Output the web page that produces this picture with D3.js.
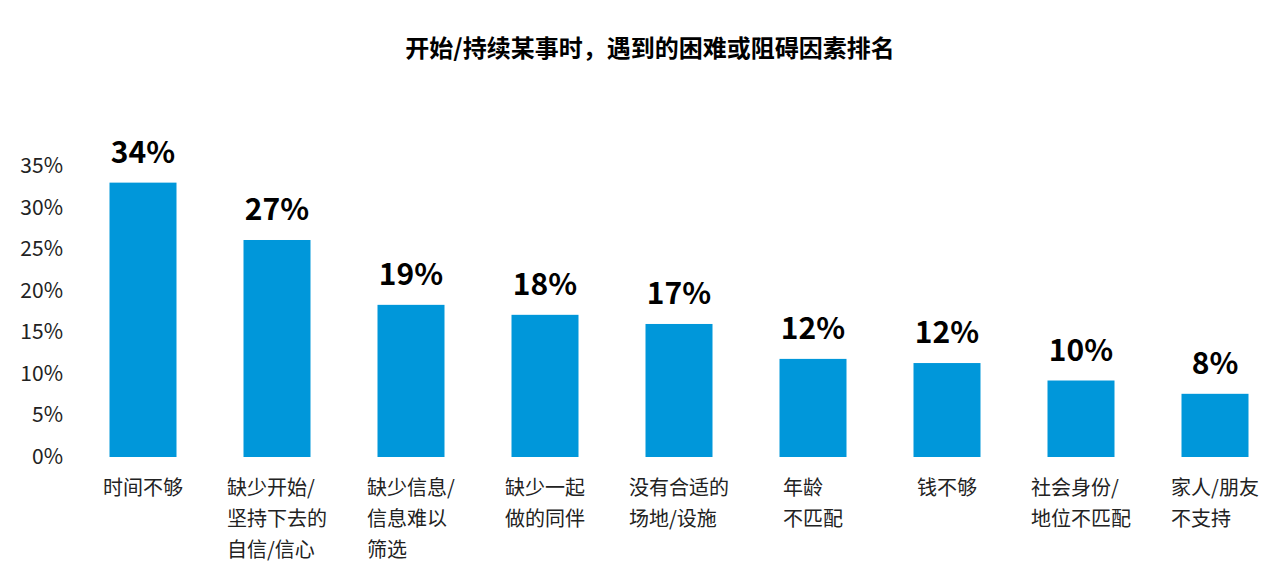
<!DOCTYPE html><html><head><meta charset="utf-8"><script src="https://cdn.jsdelivr.net/npm/d3@7"></script>
<style>body{margin:0;background:#fff}text{font-family:"Noto Sans CJK SC","Noto Sans",sans-serif}</style></head><body><svg id="c" width="1287" height="573"></svg>
<script>
const categories=[["时间不够"],["缺少开始/","坚持下去的","自信/信心"],["缺少信息/","信息难以","筛选"],["缺少一起","做的同伴"],["没有合适的","场地/设施"],["年龄","不匹配"],["钱不够"],["社会身份/","地位不匹配"],["家人/朋友","不支持"]];
const values=[33.0,26.1,18.3,17.1,16.0,11.8,11.3,9.2,7.6];
const valueLabels=["34%","27%","19%","18%","17%","12%","12%","10%","8%"];
const yTicks=[0,5,10,15,20,25,30,35];
const svg=d3.select("#c");
const x=d3.scaleBand().domain(d3.range(9)).range([76,1282]).padding(0.5).paddingOuter(0.25);
const y=d3.scaleLinear().domain([0,35]).range([457,166]);
svg.append("text").attr("x",650).attr("y",57).attr("text-anchor","middle").attr("font-size",24).attr("font-weight","bold").text("开始/持续某事时，遇到的困难或阻碍因素排名");
svg.selectAll(".yt").data(yTicks).join("text").attr("x",63).attr("y",d=>y(d)+7).attr("text-anchor","end").attr("font-size",21).attr("fill","#222").text(d=>d+"%");
svg.selectAll(".b").data(values).join("rect").attr("x",(d,i)=>x(i)).attr("width",x.bandwidth()).attr("y",d=>y(d)).attr("height",d=>y(0)-y(d)).attr("fill","#0097da");
svg.selectAll(".v").data(values).join("text").attr("x",(d,i)=>x(i)+x.bandwidth()/2).attr("y",d=>y(d)-20).attr("text-anchor","middle").attr("font-size",30).attr("font-weight","bold").text((d,i)=>valueLabels[i]);
categories.forEach((lines,i)=>{
  const g=svg.append("g");
  lines.forEach((l,j)=>{g.append("text").attr("x",0).attr("y",495+j*31).attr("font-size",20).attr("fill","#222").text(l);});
  const w=g.node().getBBox().width;
  g.attr("transform",`translate(${x(i)+x.bandwidth()/2-w/2},0)`);
});
</script></body></html>
